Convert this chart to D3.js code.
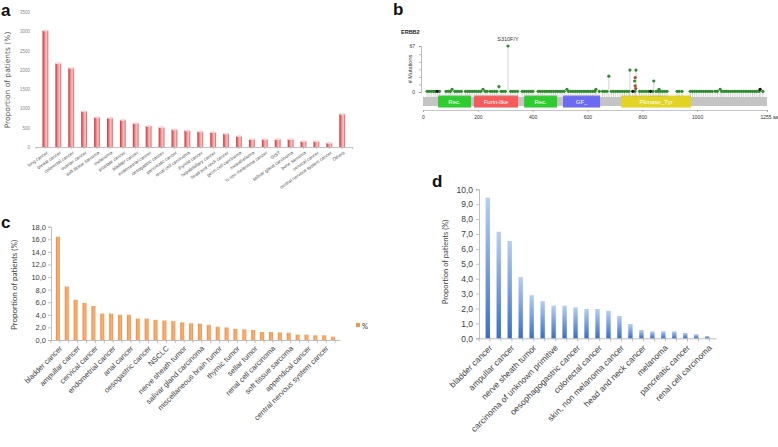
<!DOCTYPE html>
<html>
<head>
<meta charset="utf-8">
<script src="https://cdn.jsdelivr.net/npm/d3@7"></script>
<style>
body { margin: 0; background: #fff; }
svg { display: block; }
</style>
</head>
<body>
<svg width="778" height="447"></svg>
<script>
// ---- panel a : patients per cancer type
const aCats = ["lung cancer", "breast cancer", "colorectal cancer", "ovarian cancer", "soft tissue sarcoma",
    "melanoma", "prostate cancer", "bladder cancer", "endometrial cancer", "oesogastric cancer",
    "pancreatic cancer", "renal cell carcinoma", "thyroid cancer", "hepatobiliary cancer",
    "head and neck cancer", "germ cell carcinoma", "mesothelioma", "½ non melanoma cancer", "GIST",
    "salivar gland carcinoma", "bone sarcoma", "cervical cancer", "central nervous system cancer", "Others"];
const aVals = [3020, 2170, 2050, 930, 770, 755, 700, 615, 545, 510, 455, 430, 400, 380, 345, 280,
    200, 200, 200, 200, 150, 150, 105, 855];
const aTicks = [0, 500, 1000, 1500, 2000, 2500, 3000, 3500];

// ---- panel b : ERBB2 lollipop
const bDomains = [
    {name: "Rec.", start: 55, end: 175, color: "#2ecc2e"},
    {name: "Furin-like", start: 186, end: 347, color: "#f55b5b"},
    {name: "Rec.", start: 369, end: 489, color: "#2ecc2e"},
    {name: "GF_", start: 511, end: 646, color: "#6a6af2"},
    {name: "Pkinase_Tyr", start: 723, end: 978, color: "#e3d423"}
];
const bTicks = [0, 200, 400, 600, 800, 1000, 1255];
const singleSites = [15, 22, 30, 38, 45, 60, 84, 92, 100, 116, 124, 132, 140, 155, 163, 171, 179, 187,
    195, 203, 211, 227, 234, 245, 253, 261, 269, 285, 292, 300, 320, 328, 336, 345, 362, 370, 378,
    386, 394, 401, 420, 428, 436, 444, 452, 460, 468, 476, 484, 492, 500, 507, 515, 531, 539, 547,
    555, 563, 571, 579, 587, 595, 603, 611, 619, 627, 643, 655, 663, 671, 687, 695, 703, 711, 719,
    727, 735, 743, 751, 773, 790, 798, 806, 814, 822, 838, 850, 858, 866, 874, 882, 890, 927, 935,
    945, 975, 983, 991, 999, 1007, 1015, 1023, 1031, 1039, 1047, 1055, 1066, 1074, 1090, 1098, 1106,
    1114, 1122, 1130, 1138, 1146, 1154, 1162, 1170, 1178, 1186, 1194, 1202, 1210, 1218, 1226, 1240];
const truncSites = [[52, 1], [765, 1], [830, 1], [1230, 4]];
const raisedSites = [[106, 4], [219, 4], [277, 8], [525, 4], [631, 4], [678, 23], [755, 32], [777, 32],
    [842, 16], [861, 4], [1084, 4]];
const stackedDots = [[774, 21, "#a0522d"], [772, 16, "#2e8b2e"], [774, 9, "#a0522d"], [776, 5, "#a0522d"]];
const hotspot = {aa: 310, count: 67, label: "S310F/Y"};

// ---- panel c : orange bars (every second category labelled)
const cLabels = ["bladder cancer", "ampullar cancer", "cervical cancer", "endometrial cancer", "anal cancer",
    "oesogastric cancer", "NSCLC", "nerve sheath tumor", "salivar gland carcinoma",
    "miscellaneous brain tumor", "thymic tumor", "sellar tumor", "renal cell carcinoma",
    "soft tissue sarcoma", "appendical cancer", "central nervous system cancer"];
const cVals = [16.4, 8.5, 6.4, 5.9, 5.4, 4.2, 4.2, 4.0, 4.0, 3.4, 3.4, 3.2, 3.1, 3.0, 2.8, 2.65,
    2.6, 2.4, 2.1, 2.0, 1.75, 1.7, 1.6, 1.27, 1.27, 1.2, 1.15, 0.85, 0.85, 0.75, 0.75, 0.53];
const cTicks = [0, 2, 4, 6, 8, 10, 12, 14, 16, 18];

// ---- panel d : blue bars (every second category labelled)
const dLabels = ["bladder cancer", "ampullar cancer", "nerve sheath tumor", "carcinoma of unknown primitive",
    "oesophagogastric cancer", "colorectal cancer", "skin, non melanoma cancer", "head and neck cancer",
    "melanoma", "pancreatic cancer", "renal cell carcinoma"];
const dVals = [9.44, 7.15, 6.53, 4.11, 2.89, 2.5, 2.19, 2.19, 2.08, 1.97, 1.97, 1.85, 1.5, 0.96,
    0.56, 0.47, 0.47, 0.47, 0.36, 0.27, 0.15];
const dTicks = [0, 1, 2, 3, 4, 5, 6, 7, 8, 9, 10];

const svg = d3.select("svg");
const defs = svg.append("defs");
const comma = d => d.toFixed(1).replace(".", ",");

function gradient(id, horizontal, stops) {
    const g = defs.append("linearGradient").attr("id", id)
        .attr("x1", 0).attr("y1", horizontal ? 0 : 1)
        .attr("x2", horizontal ? 1 : 0).attr("y2", 0);
    stops.forEach(s => g.append("stop").attr("offset", s[0]).attr("stop-color", s[1]));
}
gradient("gA", true, [[0, "#c92f30"], [0.45, "#f29c9c"], [0.7, "#f8c3c3"], [1, "#e05a5a"]]);
gradient("gC", true, [[0, "#ee8a3c"], [0.55, "#f8b27a"], [1, "#ef9347"]]);
gradient("gD", false, [[0, "#3b6fc4"], [1, "#b6cff3"]]);

// panel letters
[["a", 1, 16], ["b", 393, 15], ["c", 1, 228], ["d", 432, 187]].forEach(l => {
    svg.append("text").text(l[0]).attr("x", l[1]).attr("y", l[2])
        .style("font", "bold 17px 'Liberation Sans', Arial, sans-serif").attr("fill", "#111");
});

// ================= panel a
{
    const g = svg.append("g").style("font-family", "'DejaVu Sans', sans-serif");
    const x = d3.scaleBand().domain(aCats).range([35.4, 352.2]).padding(0.55);
    const y = d3.scaleLinear().domain([0, 3500]).range([147, 12]);

    const ya = g.append("g").attr("transform", "translate(33,0)")
        .call(d3.axisLeft(y).tickValues(aTicks).tickFormat(d3.format("d")).tickSize(0).tickPadding(3));
    ya.select(".domain").remove();
    ya.selectAll("text").attr("fill", "#8a8a8a").style("font-size", "4.5px");

    const xa = g.append("g").attr("transform", "translate(0,147)")
        .call(d3.axisBottom(x).tickSize(2));
    xa.select(".domain").attr("stroke", "#999").attr("stroke-width", 0.6);
    xa.selectAll(".tick line").attr("stroke", "#999").attr("stroke-width", 0.5);
    xa.selectAll("text").attr("fill", "#555").style("font-size", "4.6px")
        .attr("text-anchor", "end").attr("x", 0).attr("y", 0).attr("dy", "0.35em")
        .attr("transform", "translate(2,5) rotate(-35)");

    g.selectAll("rect.bar").data(aVals).enter().append("rect")
        .attr("class", "bar")
        .attr("x", (d, i) => x(aCats[i]))
        .attr("y", d => y(d))
        .attr("width", x.bandwidth())
        .attr("height", d => 147 - y(d))
        .attr("fill", "url(#gA)");
    g.selectAll("ellipse").data(aVals).enter().append("ellipse")
        .attr("cx", (d, i) => x(aCats[i]) + x.bandwidth() / 2)
        .attr("cy", d => y(d))
        .attr("rx", x.bandwidth() / 2).attr("ry", 1)
        .attr("fill", "#fad4d4");

    g.append("text").text("Proportion of patients (%)")
        .attr("transform", "translate(10,80) rotate(-90)")
        .attr("text-anchor", "middle").attr("fill", "#555").style("font-size", "7.5px");
}

// ================= panel b
{
    const g = svg.append("g").style("font-family", "'Liberation Sans', Arial, sans-serif");
    const x = d3.scaleLinear().domain([0, 1255]).range([423, 767]);
    const y = d3.scaleLinear().domain([0, 67]).range([92, 46]);

    g.append("text").text("ERBB2").attr("x", 401).attr("y", 34)
        .style("font-size", "5.5px").style("font-weight", "bold").attr("fill", "#222");

    const ya = g.append("g").attr("transform", "translate(421,0)")
        .call(d3.axisLeft(y).tickValues([0, 11, 22, 33, 44, 55, 67])
            .tickFormat(d => (d === 0 || d === 67) ? d : "").tickSize(2).tickPadding(4));
    ya.selectAll("path, line").attr("stroke", "#777").attr("stroke-width", 0.5);
    ya.selectAll("text").style("font-size", "5px").attr("fill", "#333");
    g.append("text").text("# Mutations").attr("transform", "translate(412,69) rotate(-90)")
        .attr("text-anchor", "middle").style("font-size", "5.5px").attr("fill", "#333");

    const xa = g.append("g").attr("transform", "translate(0,110)")
        .call(d3.axisBottom(x).tickValues(bTicks).tickFormat(d => d === 1255 ? "1255 aa" : d)
            .tickSize(2).tickPadding(3));
    xa.selectAll("path, line").attr("stroke", "#888").attr("stroke-width", 0.5);
    xa.selectAll("text").style("font-size", "5px").attr("fill", "#333");
    xa.selectAll(".tick").filter(d => d === 1255).select("text").attr("dx", "0.4em");

    // protein backbone and domains
    g.append("rect").attr("x", x(0)).attr("width", x(1255) - x(0))
        .attr("y", 97).attr("height", 9).attr("fill", "#c4c4c4");
    g.selectAll("rect.dom").data(bDomains).enter().append("rect").attr("class", "dom")
        .attr("x", d => x(d.start)).attr("width", d => x(d.end) - x(d.start))
        .attr("y", 95.5).attr("height", 12).attr("fill", d => d.color);
    g.selectAll("text.dom").data(bDomains).enter().append("text").attr("class", "dom")
        .text(d => d.name).attr("x", d => (x(d.start) + x(d.end)) / 2).attr("y", 103.5)
        .attr("text-anchor", "middle").attr("fill", "#fff").style("font-size", "6px");

    const sites = singleSites.map(a => [a, 1, "#2e8b2e"])
        .concat(raisedSites.map(s => [s[0], s[1], "#2e8b2e"]))
        .concat([[hotspot.aa, hotspot.count, "#2e8b2e"]])
        .concat(truncSites.map(s => [s[0], s[1], "#111"]));
    g.selectAll("line.stem").data(sites).enter().append("line").attr("class", "stem")
        .attr("x1", d => x(d[0])).attr("x2", d => x(d[0]))
        .attr("y1", 97).attr("y2", d => y(d[1]))
        .attr("stroke", "#a8a8a8").attr("stroke-width", 0.5);
    g.selectAll("circle.site").data(sites.concat(stackedDots)).enter().append("circle").attr("class", "site")
        .attr("cx", d => x(d[0])).attr("cy", d => y(d[1])).attr("r", 1.6)
        .attr("fill", d => d[2]);
    g.append("text").text(hotspot.label).attr("x", x(hotspot.aa)).attr("y", y(hotspot.count) - 5)
        .attr("text-anchor", "middle").style("font-size", "5.5px").attr("fill", "#333");
}

// ================= panel c
{
    const g = svg.append("g").style("font-family", "Lato, 'Open Sans', sans-serif");
    const idx = d3.range(cVals.length);
    const x = d3.scaleBand().domain(idx).range([51, 340]).padding(0.55);
    const y = d3.scaleLinear().domain([0, 18]).range([340, 226.7]);

    const ya = g.append("g").attr("transform", "translate(51,0)")
        .call(d3.axisLeft(y).tickValues(cTicks).tickFormat(comma).tickSize(3).tickPadding(2));
    ya.selectAll("path, line").attr("stroke", "#a6a6a6").attr("stroke-width", 0.7);
    ya.selectAll("text").attr("fill", "#404040").style("font-size", "7.5px");

    const xa = g.append("g").attr("transform", "translate(0,340)")
        .call(d3.axisBottom(x).tickSize(0).tickFormat(i => i % 2 === 0 ? cLabels[i / 2] : ""));
    xa.select(".domain").attr("stroke", "#a6a6a6").attr("stroke-width", 0.7);
    xa.selectAll("text").attr("fill", "#404040").style("font-size", "7.5px")
        .attr("text-anchor", "end").attr("x", 0).attr("y", 0).attr("dy", "0.35em")
        .attr("transform", "translate(3,7) rotate(-45)");
    // category boundary ticks
    g.selectAll("line.bt").data(idx.concat([cVals.length])).enter().append("line").attr("class", "bt")
        .attr("x1", i => 51 + i * x.step()).attr("x2", i => 51 + i * x.step())
        .attr("y1", 340).attr("y2", 343).attr("stroke", "#a6a6a6").attr("stroke-width", 0.7);

    g.selectAll("rect.bar").data(cVals).enter().append("rect").attr("class", "bar")
        .attr("x", (d, i) => x(i)).attr("y", d => y(d))
        .attr("width", x.bandwidth()).attr("height", d => 340 - y(d))
        .attr("fill", "url(#gC)");

    g.append("text").text("Proportion of patients (%)")
        .attr("transform", "translate(17,285) rotate(-90)")
        .attr("text-anchor", "middle").attr("fill", "#404040").style("font-size", "8px");

    g.append("rect").attr("x", 356).attr("y", 323).attr("width", 4).attr("height", 4).attr("fill", "#f0984f");
    g.append("text").text("%").attr("x", 362).attr("y", 328.5)
        .attr("fill", "#404040").style("font-size", "7.5px");
}

// ================= panel d
{
    const g = svg.append("g").style("font-family", "Lato, 'Open Sans', sans-serif");
    const idx = d3.range(dVals.length);
    const x = d3.scaleBand().domain(idx).range([479, 716]).padding(0.6);
    const y = d3.scaleLinear().domain([0, 10]).range([338.3, 189.3]);

    const ya = g.append("g").attr("transform", "translate(479,0)")
        .call(d3.axisLeft(y).tickValues(dTicks).tickFormat(comma).tickSize(3).tickPadding(3));
    ya.selectAll("path, line").attr("stroke", "#a6a6a6").attr("stroke-width", 0.7);
    ya.selectAll("text").attr("fill", "#404040").style("font-size", "8.5px");

    const xa = g.append("g").attr("transform", "translate(0,338.3)")
        .call(d3.axisBottom(x).tickSize(0).tickFormat(i => i % 2 === 0 ? dLabels[i / 2] : ""));
    xa.select(".domain").attr("stroke", "#a6a6a6").attr("stroke-width", 0.7);
    xa.selectAll("text").attr("fill", "#404040").style("font-size", "8.5px")
        .attr("text-anchor", "end").attr("x", 0).attr("y", 0).attr("dy", "0.35em")
        .attr("transform", "translate(3,8) rotate(-45)");
    g.selectAll("line.bt").data(idx.concat([dVals.length])).enter().append("line").attr("class", "bt")
        .attr("x1", i => 479 + i * x.step()).attr("x2", i => 479 + i * x.step())
        .attr("y1", 338.3).attr("y2", 341.5).attr("stroke", "#a6a6a6").attr("stroke-width", 0.7);

    g.selectAll("rect.bar").data(dVals).enter().append("rect").attr("class", "bar")
        .attr("x", (d, i) => x(i)).attr("y", d => y(d))
        .attr("width", x.bandwidth()).attr("height", d => 338.3 - y(d))
        .attr("fill", "url(#gD)");

    g.append("text").text("Proportion of patients (%)")
        .attr("transform", "translate(448,262) rotate(-90)")
        .attr("text-anchor", "middle").attr("fill", "#404040").style("font-size", "7.5px");
}
</script>
</body>
</html>
